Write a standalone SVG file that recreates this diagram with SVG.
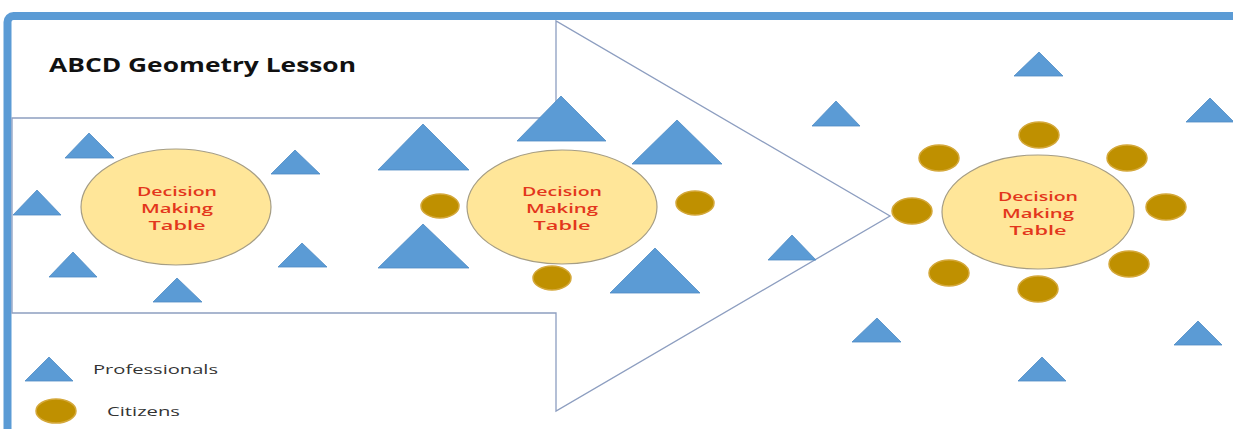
<svg xmlns="http://www.w3.org/2000/svg" width="1233" height="429" viewBox="0 0 1233 429">
<style>
.tri{fill:#5b9bd5;stroke:#4f8cc4;stroke-width:0.8}
.cit{fill:#bf9000;stroke:#d4a83a;stroke-width:1.5}
.table{fill:#ffe699;stroke:#a59d85;stroke-width:1.2}
.tt{font-family:"Open Sans","Liberation Sans",sans-serif;font-weight:600;font-size:13px;fill:#e3361c;text-anchor:middle}
.leg{font-family:"Open Sans","Liberation Sans",sans-serif;font-size:12px;fill:#333}
</style>
<rect x="0" y="0" width="1233" height="429" fill="#fff"/>
<g id="frame">
<rect x="7.5" y="16" width="1300" height="500" rx="6" fill="#fff" stroke="#5b9bd5" stroke-width="8"/>
</g>
<g id="connectors">
<polygon id="flow-arrow" points="12,118 556,118 556,21 890,216 556,411 556,313 12,313" fill="none" stroke="#8d9ec0" stroke-width="1.3"/>
</g>
<g id="title">
<text x="49" y="72" font-family="'Open Sans','Liberation Sans',sans-serif" font-weight="700" font-size="19" fill="#111" textLength="307" lengthAdjust="spacingAndGlyphs">ABCD Geometry Lesson</text>
</g>
<g id="table1">
<ellipse class="table" cx="176" cy="207" rx="95" ry="58"/>
<text class="tt" x="177" y="196" textLength="80" lengthAdjust="spacingAndGlyphs">Decision</text>
<text class="tt" x="177" y="213" textLength="72" lengthAdjust="spacingAndGlyphs">Making</text>
<text class="tt" x="177" y="230" textLength="57" lengthAdjust="spacingAndGlyphs">Table</text>
</g>
<g id="table2">
<ellipse class="table" cx="562" cy="207" rx="95" ry="57"/>
<text class="tt" x="562" y="196" textLength="80" lengthAdjust="spacingAndGlyphs">Decision</text>
<text class="tt" x="562" y="213" textLength="72" lengthAdjust="spacingAndGlyphs">Making</text>
<text class="tt" x="562" y="230" textLength="57" lengthAdjust="spacingAndGlyphs">Table</text>
</g>
<g id="table3">
<ellipse class="table" cx="1038" cy="212" rx="96" ry="57"/>
<text class="tt" x="1038" y="201" textLength="80" lengthAdjust="spacingAndGlyphs">Decision</text>
<text class="tt" x="1038" y="218" textLength="72" lengthAdjust="spacingAndGlyphs">Making</text>
<text class="tt" x="1038" y="235" textLength="57" lengthAdjust="spacingAndGlyphs">Table</text>
</g>
<g id="professionals">
<polygon class="tri" points="89,133 65,158 114,158"/>
<polygon class="tri" points="295,150 271,174 320,174"/>
<polygon class="tri" points="37,190 13,215 61,215"/>
<polygon class="tri" points="73,252 49,277 97,277"/>
<polygon class="tri" points="302,243 278,267 327,267"/>
<polygon class="tri" points="177,278 153,302 202,302"/>
<polygon class="tri" points="423,124 378,170 469,170"/>
<polygon class="tri" points="561,96 517,141 606,141"/>
<polygon class="tri" points="677,120 632,164 722,164"/>
<polygon class="tri" points="423,224 378,268 469,268"/>
<polygon class="tri" points="655,248 610,293 700,293"/>
<polygon class="tri" points="792,235 768,260 816,260"/>
<polygon class="tri" points="836,101 812,126 860,126"/>
<polygon class="tri" points="1039,52 1014,76 1063,76"/>
<polygon class="tri" points="1210,98 1186,122 1234,122"/>
<polygon class="tri" points="877,318 852,342 901,342"/>
<polygon class="tri" points="1042,357 1018,381 1066,381"/>
<polygon class="tri" points="1198,321 1174,345 1222,345"/>
</g>
<g id="citizens">
<ellipse class="cit" cx="440" cy="206" rx="19" ry="12"/>
<ellipse class="cit" cx="695" cy="203" rx="19" ry="12"/>
<ellipse class="cit" cx="552" cy="278" rx="19" ry="12"/>
<ellipse class="cit" cx="1039" cy="135" rx="20" ry="13"/>
<ellipse class="cit" cx="939" cy="158" rx="20" ry="13"/>
<ellipse class="cit" cx="1127" cy="158" rx="20" ry="13"/>
<ellipse class="cit" cx="912" cy="211" rx="20" ry="13"/>
<ellipse class="cit" cx="1166" cy="207" rx="20" ry="13"/>
<ellipse class="cit" cx="949" cy="273" rx="20" ry="13"/>
<ellipse class="cit" cx="1129" cy="264" rx="20" ry="13"/>
<ellipse class="cit" cx="1038" cy="289" rx="20" ry="13"/>
</g>
<g id="legend">
<polygon class="tri" points="49,357 25,381 73,381"/>
<text class="leg" x="93" y="374" textLength="125" lengthAdjust="spacingAndGlyphs">Professionals</text>
<ellipse class="cit" cx="56" cy="411" rx="20" ry="12"/>
<text class="leg" x="107" y="416" textLength="73" lengthAdjust="spacingAndGlyphs">Citizens</text>
</g>
</svg>
